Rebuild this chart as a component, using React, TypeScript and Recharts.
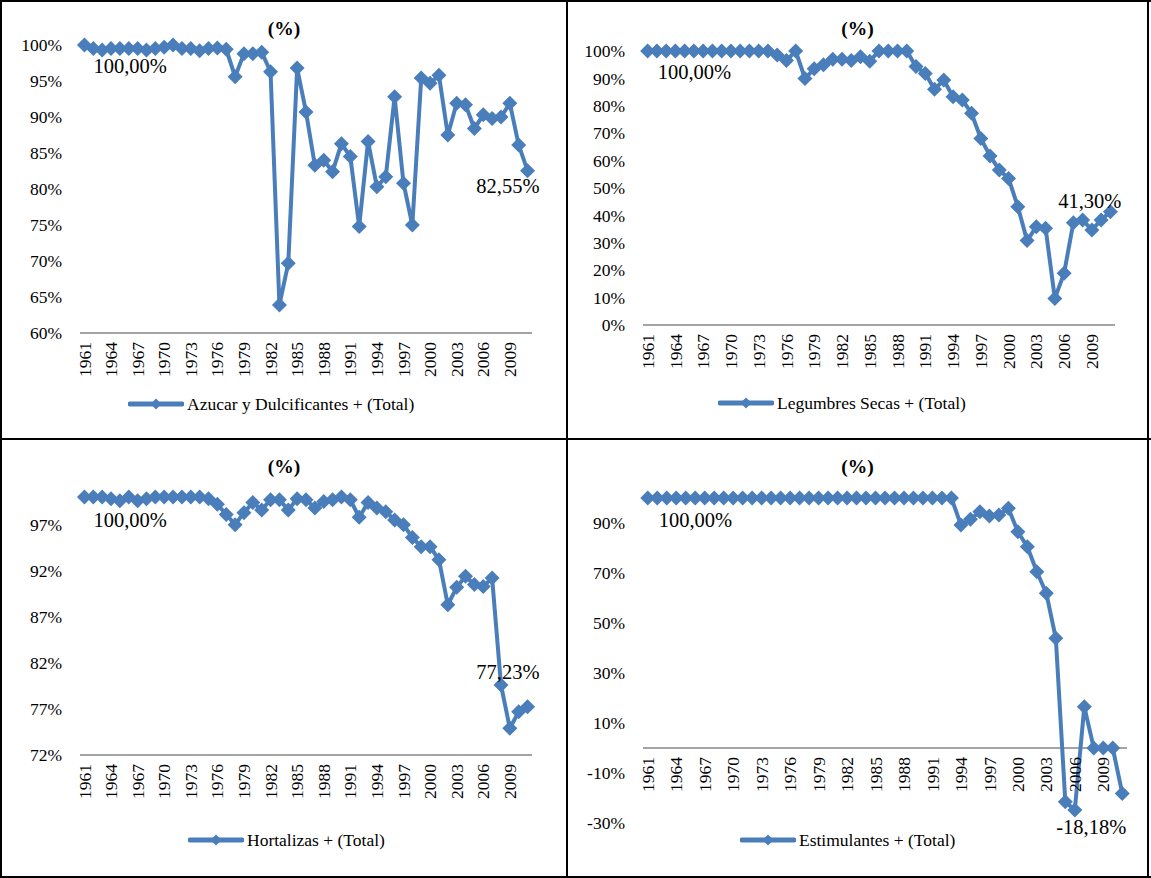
import React from 'react';
import { LineChart, Line, XAxis, YAxis, ReferenceLine } from 'recharts';

// Years shown on every panel
const years = [
  1961, 1962, 1963, 1964, 1965, 1966, 1967, 1968, 1969, 1970,
  1971, 1972, 1973, 1974, 1975, 1976, 1977, 1978, 1979, 1980,
  1981, 1982, 1983, 1984, 1985, 1986, 1987, 1988, 1989, 1990,
  1991, 1992, 1993, 1994, 1995, 1996, 1997, 1998, 1999, 2000,
  2001, 2002, 2003, 2004, 2005, 2006, 2007, 2008, 2009, 2010,
  2011,
];

// Series values (%)
const azucar = [
  100, 99.5, 99.3, 99.5, 99.5, 99.5, 99.5, 99.3, 99.5, 99.7,
  100, 99.5, 99.5, 99.2, 99.5, 99.6, 99.4, 95.6, 98.8, 98.8,
  99.0, 96.3, 63.9, 69.7, 96.8, 90.7, 83.3, 84.0, 82.4, 86.3,
  84.5, 74.8, 86.6, 80.3, 81.7, 92.8, 80.8, 75.0, 95.4, 94.7,
  95.8, 87.5, 91.9, 91.7, 88.4, 90.3, 89.8, 90.0, 91.9, 86.1,
  82.55,
];

const legumbres = [
  100, 100, 100, 100, 100, 100, 100, 100, 100, 100,
  100, 100, 100, 100, 98.5, 96.5, 100, 90, 93.5, 95,
  97, 97, 96.5, 97.9, 96.3, 100, 100, 100, 100, 94.3,
  91.8, 86, 89.4, 83.3, 82.1, 77.3, 68.1, 61.7, 56.6, 53.5,
  43.2, 30.8, 35.9, 35.3, 9.7, 18.9, 37.3, 38.3, 34.7, 38.3,
  41.3,
];

const hortalizas = [
  100, 100, 100, 99.8, 99.6, 100, 99.6, 99.8, 100, 100,
  100, 100, 100, 100, 99.8, 99.2, 98.1, 97.0, 98.3, 99.4,
  98.6, 99.7, 99.7, 98.6, 99.8, 99.7, 98.8, 99.5, 99.7, 100,
  99.7, 97.8, 99.4, 98.8, 98.4, 97.5, 97.0, 95.6, 94.6, 94.6,
  93.2, 88.3, 90.2, 91.4, 90.5, 90.3, 91.2, 79.6, 74.9, 76.7,
  77.23,
];

const estimulantes = [
  100, 100, 100, 100, 100, 100, 100, 100, 100, 100,
  100, 100, 100, 100, 100, 100, 100, 100, 100, 100,
  100, 100, 100, 100, 100, 100, 100, 100, 100, 100,
  100, 100, 100, 89.2, 91.5, 94.5, 92.8, 93.2, 95.9, 86.5,
  80.5, 70.5, 61.9, 43.9, -21.5, -24.8, 16.5, 0, 0, 0,
  -18.18,
];

// Y axis tick labels
const ticksAzucar = [60, 65, 70, 75, 80, 85, 90, 95, 100];
const ticksLegumbres = [0, 10, 20, 30, 40, 50, 60, 70, 80, 90, 100];
const ticksHortalizas = [72, 77, 82, 87, 92, 97];
const ticksEstimulantes = [-30, -10, 10, 30, 50, 70, 90];

const BLUE = '#4A7EBB';
const AXIS = '#868686';
const FONT = '"Liberation Serif", "Times New Roman", serif';

const fmt = (v: number) => v.toFixed(2).replace('.', ',') + '%';

const diamond = (cx: number, cy: number, r: number) =>
  `M${cx},${cy - r}L${cx + r},${cy}L${cx},${cy + r}L${cx - r},${cy}Z`;

interface LabelPos {
  dx: number;
  dy: number;
  anchor: 'start' | 'end' | 'middle';
}

interface PanelProps {
  title: string;
  legend: string;
  values: number[];
  domain: [number, number];
  ticks: number[];
  ox: number;
  oy: number;
  w: number;
  h: number;
  plotL: number;
  plotR: number;
  plotT: number;
  plotB: number;
  zeroAxis?: boolean;
  first: LabelPos;
  last: LabelPos;
  legendX: number;
  legendY: number;
}

const XAXIS_H = 50;

const Panel: React.FC<PanelProps> = (p) => {
  const data = years.map((year, i) => ({ year, value: p.values[i] }));
  const lastIdx = p.values.length - 1;
  const pad = (p.plotR - p.plotL) / years.length / 2;
  const plotH = p.plotB - p.plotT;
  // tick labels sit under the 0 line when the axis crosses at zero
  const shift = p.zeroAxis ? -((0 - p.domain[0]) / (p.domain[1] - p.domain[0])) * plotH : 0;

  const renderTick = (props: any) => {
    const { x, y, payload } = props;
    return (
      <g transform={`translate(${x},${y + 1 + shift})`}>
        <text transform="rotate(-90)" textAnchor="end" dy="0.35em" fontSize={17.5} fill="#000" fontFamily={FONT}>
          {payload.value}
        </text>
      </g>
    );
  };

  const renderDot = (props: any) => {
    const { cx, cy, index } = props;
    return <path key={`dot-${index}`} d={diamond(cx, cy, 7.5)} fill={BLUE} />;
  };

  const renderLabel = (props: any) => {
    const { x, y, index, value } = props;
    let pos: LabelPos | null = null;
    if (index === 0) pos = p.first;
    if (index === lastIdx) pos = p.last;
    if (!pos) return null;
    return (
      <text
        key={`lbl-${index}`}
        x={x + pos.dx}
        y={y + pos.dy}
        dy="0.35em"
        textAnchor={pos.anchor}
        fontSize={20.5}
        fill="#000"
        fontFamily={FONT}
      >
        {fmt(value)}
      </text>
    );
  };

  return (
    <>
      <div
        style={{
          position: 'absolute',
          left: p.ox,
          top: p.oy + 15,
          width: p.w,
          textAlign: 'center',
          fontWeight: 'bold',
          fontSize: 19.5,
          lineHeight: '24px',
          fontFamily: FONT,
        }}
      >
        {p.title}
      </div>
      <div style={{ position: 'absolute', left: p.ox, top: p.oy }}>
        <LineChart
          width={p.w}
          height={p.h}
          data={data}
          margin={{
            top: p.plotT - p.oy,
            left: 0,
            right: p.ox + p.w - p.plotR,
            bottom: p.oy + p.h - p.plotB - XAXIS_H,
          }}
        >
          <XAxis
            dataKey="year"
            interval={2}
            height={XAXIS_H}
            tickLine={false}
            axisLine={p.zeroAxis ? false : { stroke: AXIS, strokeWidth: 1.5 }}
            padding={{ left: pad, right: pad }}
            tick={renderTick}
          />
          <YAxis
            width={p.plotL - p.ox}
            domain={p.domain}
            ticks={p.ticks}
            interval={0}
            axisLine={false}
            tickLine={false}
            tickMargin={12}
            tickFormatter={(v: number) => `${v}%`}
            tick={{ fontSize: 17.5, fill: '#000', fontFamily: FONT }}
          />
          {p.zeroAxis && <ReferenceLine y={0} stroke={AXIS} strokeWidth={1.5} />}
          <Line
            type="linear"
            dataKey="value"
            stroke={BLUE}
            strokeWidth={4}
            dot={renderDot}
            activeDot={false}
            label={renderLabel}
            isAnimationActive={false}
          />
        </LineChart>
      </div>
      <div
        style={{
          position: 'absolute',
          left: p.legendX,
          top: p.legendY - 11,
          height: 22,
          display: 'flex',
          alignItems: 'center',
          fontFamily: FONT,
          fontSize: 17.5,
          whiteSpace: 'nowrap',
        }}
      >
        <svg width={56} height={14}>
          <line x1={2} y1={7} x2={54} y2={7} stroke={BLUE} strokeWidth={5} strokeLinecap="round" />
          <path d={diamond(28, 7, 5.5)} fill={BLUE} />
        </svg>
        <span style={{ marginLeft: 3 }}>{p.legend}</span>
      </div>
    </>
  );
};

const line = (left: number, top: number, width: number, height: number) => (
  <div style={{ position: 'absolute', left, top, width, height, background: '#000' }} />
);

export default function App() {
  return (
    <div
      style={{
        position: 'absolute',
        left: 0,
        top: 0,
        width: 1151,
        height: 878,
        background: '#fff',
        fontFamily: FONT,
        overflow: 'hidden',
      }}
    >
      {line(0, 0, 1151, 2)}
      {line(0, 0, 2, 878)}
      {line(566, 0, 2, 878)}
      {line(1147, 0, 2, 878)}
      {line(0, 438, 1151, 2)}
      {line(0, 876, 1151, 2)}

      <Panel
        title="(%)"
        legend="Azucar y Dulcificantes + (Total)"
        values={azucar}
        domain={[60, 100]}
        ticks={ticksAzucar}
        ox={2}
        oy={2}
        w={564}
        h={436}
        plotL={80}
        plotR={532}
        plotT={45}
        plotB={333}
        first={{ dx: 9, dy: 21, anchor: 'start' }}
        last={{ dx: 12, dy: 15, anchor: 'end' }}
        legendX={128}
        legendY={404}
      />
      <Panel
        title="(%)"
        legend="Legumbres Secas + (Total)"
        values={legumbres}
        domain={[0, 100]}
        ticks={ticksLegumbres}
        ox={568}
        oy={2}
        w={579}
        h={436}
        plotL={643}
        plotR={1115}
        plotT={51}
        plotB={325}
        first={{ dx: 10, dy: 21, anchor: 'start' }}
        last={{ dx: 11, dy: -11, anchor: 'end' }}
        legendX={718}
        legendY={403}
      />
      <Panel
        title="(%)"
        legend="Hortalizas + (Total)"
        values={hortalizas}
        domain={[72, 100]}
        ticks={ticksHortalizas}
        ox={2}
        oy={440}
        w={564}
        h={436}
        plotL={80}
        plotR={532}
        plotT={497}
        plotB={755}
        first={{ dx: 9, dy: 23, anchor: 'start' }}
        last={{ dx: 12, dy: -35, anchor: 'end' }}
        legendX={188}
        legendY={840}
      />
      <Panel
        title="(%)"
        legend="Estimulantes + (Total)"
        values={estimulantes}
        domain={[-30, 100]}
        ticks={ticksEstimulantes}
        ox={568}
        oy={440}
        w={579}
        h={436}
        plotL={643}
        plotR={1127}
        plotT={498}
        plotB={823}
        zeroAxis
        first={{ dx: 11, dy: 22, anchor: 'start' }}
        last={{ dx: 4, dy: 33, anchor: 'end' }}
        legendX={740}
        legendY={840}
      />
    </div>
  );
}
